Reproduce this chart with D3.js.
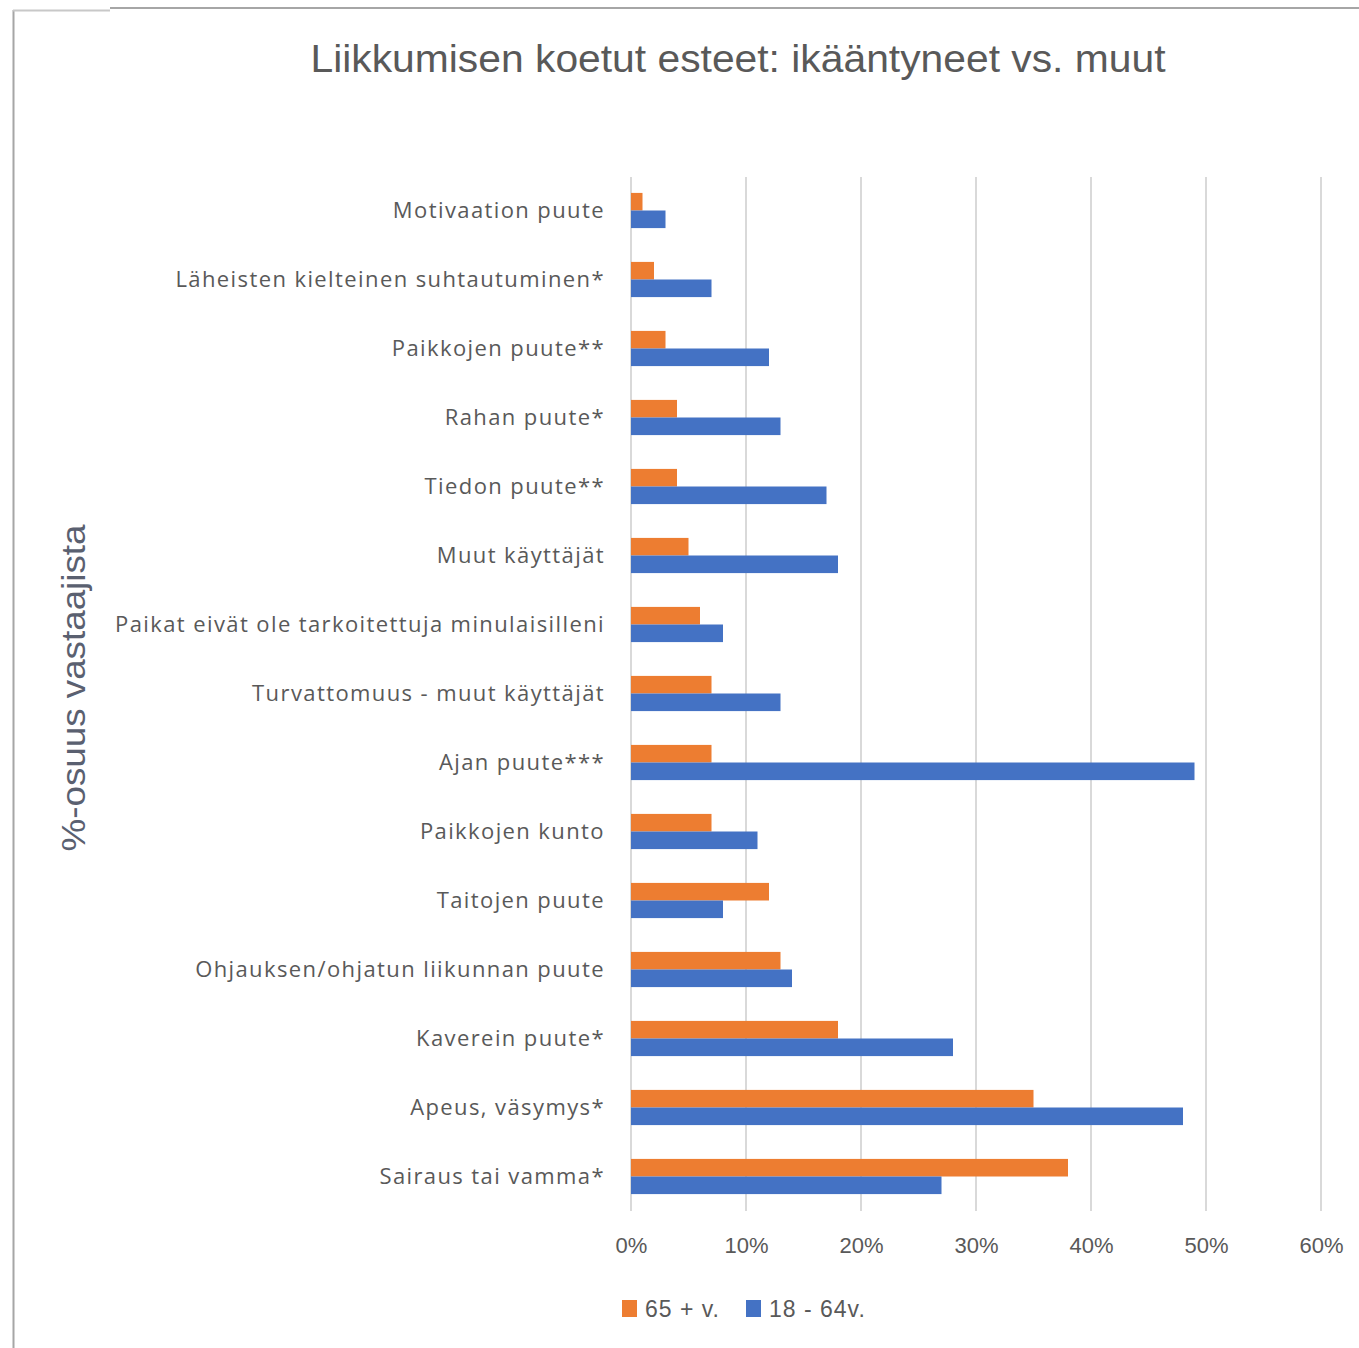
<!DOCTYPE html>
<meta charset="utf-8">
<style>
  body { margin: 0; background: #fff; }
  text { font-family: "Open Sans", "Liberation Sans", sans-serif; }
</style>
<script src="https://cdnjs.cloudflare.com/ajax/libs/d3/7.8.5/d3.min.js"></script>
<div id="chart"></div>
<script>

// categories, top to bottom
var categories = [
  "Motivaation puute",
  "Läheisten kielteinen suhtautuminen*",
  "Paikkojen puute**",
  "Rahan puute*",
  "Tiedon puute**",
  "Muut käyttäjät",
  "Paikat eivät ole tarkoitettuja minulaisilleni",
  "Turvattomuus - muut käyttäjät",
  "Ajan puute***",
  "Paikkojen kunto",
  "Taitojen puute",
  "Ohjauksen/ohjatun liikunnan puute",
  "Kaverein puute*",
  "Apeus, väsymys*",
  "Sairaus tai vamma*"
];

// series (share of respondents, %)
var seriesNames = ["65 + v.", "18 - 64v."];
var older   = [1, 2, 3, 4, 4, 5, 6, 7, 7, 7, 12, 13, 18, 35, 38];
var younger = [3, 7, 12, 13, 17, 18, 8, 13, 49, 11, 8, 14, 28, 48, 27];
var xTicks = [0, 10, 20, 30, 40, 50, 60];

var colors = ["#ED7D31", "#4472C4"];
var textGray = "#595959";

var W = 1359, H = 1348;

var svg = d3.select("#chart").append("svg")
    .attr("width", W)
    .attr("height", H);

// frame lines like the cropped original
svg.append("line").attr("x1", 13.5).attr("x2", 13.5).attr("y1", 10).attr("y2", H)
    .attr("stroke", "#a6a6a6").attr("stroke-width", 2);
svg.append("line").attr("x1", 13).attr("x2", 110).attr("y1", 10.5).attr("y2", 10.5)
    .attr("stroke", "#c8c8c8").attr("stroke-width", 2);
svg.append("line").attr("x1", 110).attr("x2", W).attr("y1", 8).attr("y2", 8)
    .attr("stroke", "#a6a6a6").attr("stroke-width", 2);

// scales
var x = d3.scaleLinear().domain([0, 60]).range([631, 1321]);

var y0 = d3.scaleBand()
    .domain(categories)
    .range([176, 1211])
    .paddingInner(0.49)
    .paddingOuter(0.245);

var y1 = d3.scaleBand()
    .domain([0, 1])
    .range([0, y0.bandwidth()]);

// gridlines
svg.append("g")
  .selectAll("line")
  .data(xTicks)
  .enter()
  .append("line")
    .attr("x1", function(d) { return x(d); })
    .attr("x2", function(d) { return x(d); })
    .attr("y1", 177)
    .attr("y2", 1211)
    .attr("stroke", "#d9d9d9")
    .attr("stroke-width", 2);

// bars
var rows = categories.map(function(c, i) { return {cat: c, vals: [older[i], younger[i]]}; });

var groups = svg.append("g")
  .selectAll("g")
  .data(rows)
  .enter()
  .append("g")
    .attr("transform", function(d) { return "translate(0," + y0(d.cat) + ")"; });

groups.selectAll("rect")
  .data(function(d) { return d.vals.map(function(v, k) { return {k: k, v: v}; }); })
  .enter()
  .append("rect")
    .attr("x", x(0))
    .attr("y", function(d) { return y1(d.k); })
    .attr("width", function(d) { return x(d.v) - x(0); })
    .attr("height", y1.bandwidth())
    .attr("fill", function(d) { return colors[d.k]; });

// category labels
svg.append("g")
  .selectAll("text")
  .data(categories)
  .enter()
  .append("text")
    .attr("x", 605)
    .attr("y", function(d) { return y0(d) + y0.bandwidth() / 2; })
    .attr("dy", "0.33em")
    .attr("text-anchor", "end")
    .attr("fill", textGray)
    .style("font-size", "22px")
    .style("letter-spacing", "1.4px")
    .text(function(d) { return d; });

// x axis
var xAxis = d3.axisBottom(x)
    .tickValues(xTicks)
    .tickSize(0)
    .tickPadding(0)
    .tickFormat(function(d) { return d + "%"; });

var gx = svg.append("g")
    .attr("transform", "translate(0,1245)")
    .call(xAxis);
gx.select(".domain").remove();
gx.selectAll("text")
    .attr("dy", "0.35em")
    .attr("fill", textGray)
    .style("font-family", "'Liberation Sans Narrow', 'Liberation Sans', sans-serif")
    .style("font-size", "22px");

// title
svg.append("text")
    .attr("x", 738)
    .attr("y", 72)
    .attr("text-anchor", "middle")
    .attr("fill", textGray)
    .attr("textLength", 855)
    .attr("lengthAdjust", "spacingAndGlyphs")
    .style("font-family", "'Liberation Sans Narrow', 'Liberation Sans', sans-serif")
    .style("font-size", "38px")
    .text("Liikkumisen koetut esteet: ikääntyneet vs. muut");

// y axis title
svg.append("text")
    .attr("transform", "translate(85,688) rotate(-90)")
    .attr("text-anchor", "middle")
    .attr("fill", "#5a6070")
    .attr("textLength", 327)
    .attr("lengthAdjust", "spacingAndGlyphs")
    .style("font-family", "'Liberation Sans', sans-serif")
    .style("font-size", "33px")
    .text("%-osuus vastaajista");

// legend
var legendX = [622, 746];
var legend = svg.append("g")
  .selectAll("g")
  .data(seriesNames)
  .enter()
  .append("g")
    .attr("transform", function(d, i) { return "translate(" + legendX[i] + ",1300)"; });

legend.append("rect")
    .attr("width", 15)
    .attr("height", 17)
    .attr("fill", function(d, i) { return colors[i]; });

legend.append("text")
    .attr("x", 23)
    .attr("y", 9)
    .attr("dy", "0.35em")
    .attr("fill", textGray)
    .style("font-family", "'Liberation Sans Narrow', 'Liberation Sans', sans-serif")
    .style("font-size", "23px")
    .style("letter-spacing", "1px")
    .text(function(d) { return d; });

</script>
